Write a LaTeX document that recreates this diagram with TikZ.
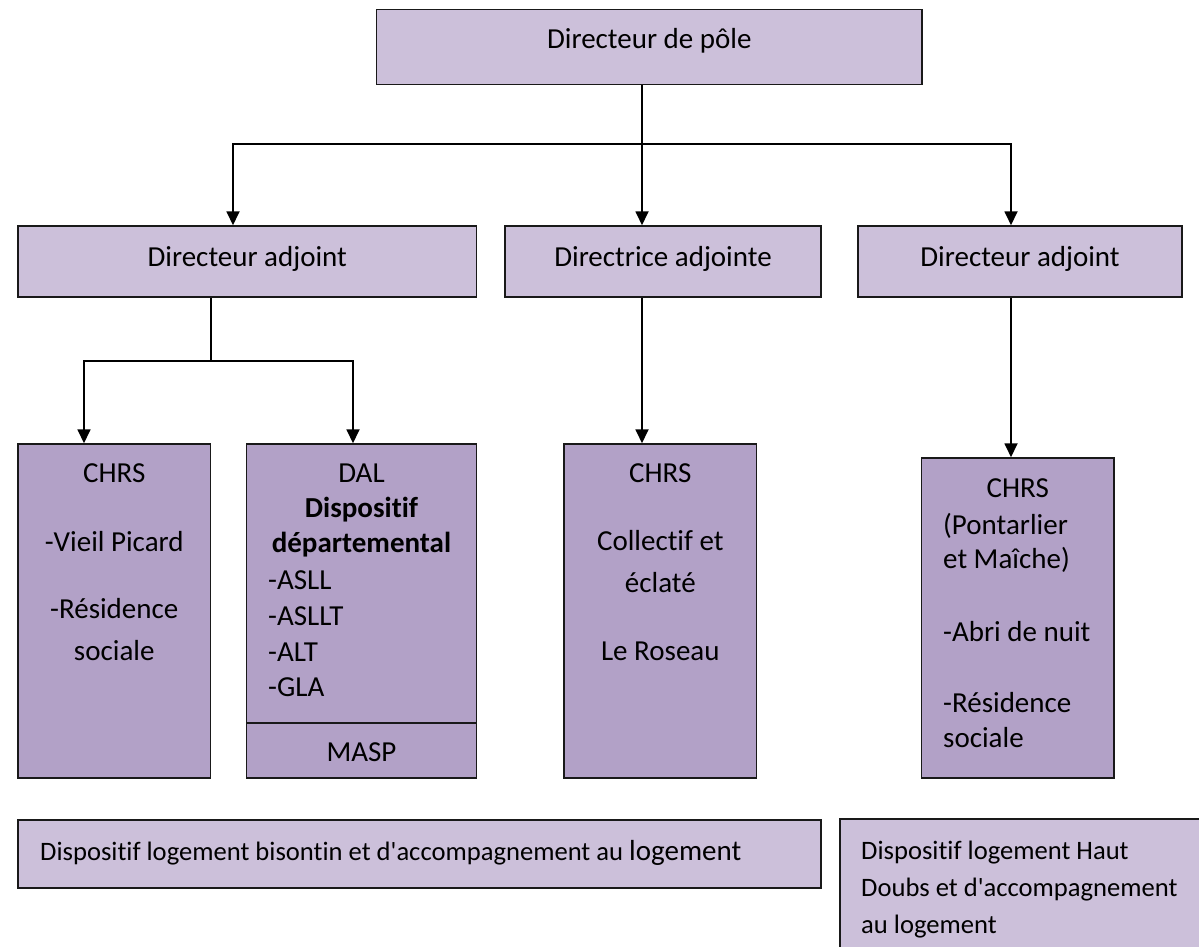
\documentclass[tikz,border=0pt]{standalone}
\usepackage{fontspec}
\setmainfont{Carlito}[Ligatures={TeXOff,CommonOff}]
\usepackage{tikz}
\usetikzlibrary{arrows.meta}
\definecolor{lilac}{RGB}{204,192,218}
\definecolor{mauve}{RGB}{178,161,199}
\tikzstyle{box}=[rectangle,draw=black!90,line width=1.5pt,fill=lilac,inner sep=0pt]
\tikzstyle{dark box} = [box, fill=mauve]
\tikzstyle{line} = [draw,line width=1.8pt,-]
\tikzstyle{thin line} = [draw,line width=1.1pt,-]
\tikzstyle{arrow} = [line,-{Triangle[length=14pt,width=13pt]}]
\tikzstyle{txt} = [anchor=base,inner sep=0pt]
\tikzstyle{txt left} = [anchor=base west,inner sep=0pt]

\begin{document}
\begin{tikzpicture}[x=1pt,y=-1pt,font=\fontsize{29}{36}\selectfont]
    \useasboundingbox (0,0) rectangle (1199,946);
    % Draw the boxes of the chart
    \foreach \pos/\w/\h/\name in {{(649.3,47)/545.4/75.4/pole}, {(247.25,261.5)/458.5/71/adjA}, {(663,261.5)/316/71/adjB}, {(1020,261.5)/324/71/adjC}, {(419.5,854)/803/68/logA}, {(1025,889.5)/370/141/logB}}
        \node[box, minimum width=\w, minimum height=\h] (\name) at \pos {};

    \foreach \pos/\w/\h/\name in {{(114.25,611)/192.5/334/chrsA}, {(361.5,583.5)/230/279/dal}, {(361.5,750.5)/230/55/masp}, {(660.3,611)/192.6/334/chrsB}, {(1017.75,618)/192.5/320/chrsC}}
        \node[dark box, minimum width=\w, minimum height=\h] (\name) at \pos {};

    % Then the texts
    \node[txt] (poleT) at (649.3,48.7) {Directeur de pôle};
    \node[txt] (adjAT) at (247.25,266) {Directeur adjoint};
    \node[txt] (adjBT) at (663,266) {Directrice adjointe};
    \node[txt] (adjCT) at (1020,266) {Directeur adjoint};

    \foreach \y/\txt [count=\i] in {482/CHRS, 551/-Vieil Picard, 618/-Résidence, 660/sociale}
        \node[txt] (chrsA\i) at (114.25,\y) {\txt};
    \foreach \y/\txt [count=\i] in {482/DAL, 517/\textbf{Dispositif}, 552/\textbf{départemental}}
        \node[txt] (dal\i) at (361.5,\y) {\txt};
    \foreach \y/\txt [count=\i] in {589/-ASLL, 625/-ASLLT, 661/-ALT, 696/-GLA}
        \node[txt left] (dalL\i) at (268,\y) {\txt};
    \node[txt] (maspT) at (361.5,761) {MASP};
    \foreach \y/\txt [count=\i] in {482/CHRS, 550/Collectif et, 592/éclaté, 660/Le Roseau}
        \node[txt] (chrsB\i) at (660.3,\y) {\txt};
    \node[txt] (chrsC0) at (1017.75,497) {CHRS};
    \foreach \y/\txt [count=\i] in {534/{(Pontarlier}, 568/{et Maîche)}, 641/-Abri de nuit, 712/-Résidence, 747/sociale}
        \node[txt left] (chrsC\i) at (943,\y) {\txt};

    \node[txt left] (logAT) at (40,860) {{\fontsize{26.6}{32}\selectfont Dispositif logement bisontin et d'accompagnement au }logement};
    \foreach \y/\txt [count=\i] in {859/Dispositif logement Haut, 896/Doubs et d'accompagnement, 933/au logement}
        \node[txt left, font=\fontsize{26.6}{32}\selectfont] (logBT\i) at (861,\y) {\txt};

    % Connect the boxes
    \coordinate (fork) at (642,144);
    \coordinate (forkL) at (233,144);
    \coordinate (forkR) at (1011,144);
    \coordinate (split) at (211,361);
    \coordinate (splitL) at (84,361);
    \coordinate (splitR) at (353,361);
    \draw[arrow] (pole.south -| fork) -- (adjB.north -| fork);
    \draw[arrow] (fork) -| (forkL |- adjA.north);
    \draw[arrow] (fork) -| (forkR |- adjC.north);
    \draw[thin line] (adjA.south -| split) -- (split);
    \draw[arrow] (split) -| (splitL |- chrsA.north);
    \draw[arrow] (split) -| (splitR |- dal.north);
    \draw[arrow] (adjB.south -| fork) -- (chrsB.north -| fork);
    \draw[arrow] (adjC.south -| forkR) -- (chrsC.north -| forkR);
\end{tikzpicture}
\end{document}
